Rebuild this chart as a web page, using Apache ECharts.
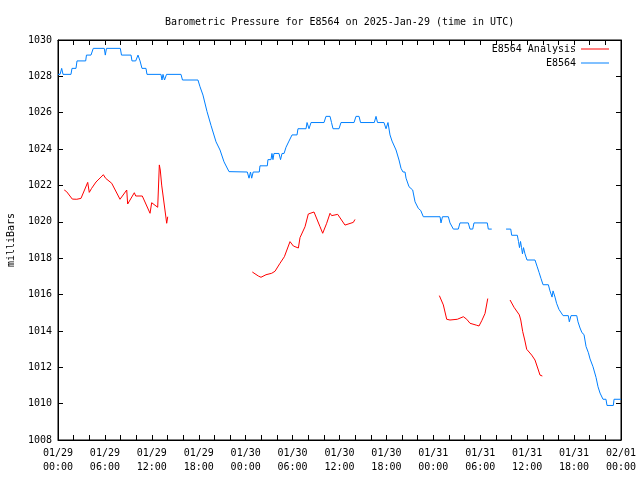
<!DOCTYPE html>
<html>
<head>
<meta charset="utf-8">
<script src="https://cdn.jsdelivr.net/npm/echarts@6/dist/echarts.min.js"></script>
<style>html,body{margin:0;padding:0;background:#fff}#c{width:640px;height:480px}</style>
</head>
<body>
<div id="c"></div>
<script>
// Hours since 2025-01-29 00:00 UTC
var stationTimes = [0,0.26,0.47,0.64,1.66,1.79,2.30,2.43,3.54,3.64,4.22,4.51,5.92,6.05,6.20,7.97,8.12,9.34,9.46,9.94,10.23,10.49,10.74,11.25,11.38,13.17,13.30,13.43,13.62,13.88,15.73,15.92,17.90,18.16,18.54,19.06,19.57,20.21,20.72,21.23,21.87,24.21,24.43,24.62,24.77,24.96,25.74,25.83,26.77,26.85,27.24,27.36,27.49,27.62,28.26,28.46,28.65,28.91,29.16,29.54,29.93,30.57,30.69,31.72,31.85,32.10,32.36,34.02,34.27,34.79,34.98,35.17,35.94,36.19,37.86,38.11,38.50,38.69,40.45,40.67,40.86,41.69,41.95,42.20,42.46,42.72,43.23,43.61,43.87,44.12,44.38,44.51,44.89,45.02,45.36,45.66,46.08,46.39,46.72,48.86,48.98,49.17,49.92,50.13,50.56,51.19,51.41,52.47,52.69,53.04,53.20,54.90,55.03,55.47,56.40,57.30,57.90,58.02,58.74,58.89,59.02,59.15,59.28,59.40,59.53,59.72,59.98,61.00,61.26,61.52,61.77,62.03,62.71,62.92,63.18,63.31,63.56,63.76,64.07,64.59,65.26,65.39,65.61,66.34,66.50,66.76,67.01,67.27,67.53,67.83,68.04,68.42,68.81,69.06,69.32,69.70,70.08,70.21,71.02,71.11,72];
var stationValues = [1028.11,1028.11,1028.44,1028.11,1028.11,1028.44,1028.44,1028.85,1028.85,1029.17,1029.17,1029.54,1029.54,1029.17,1029.54,1029.54,1029.17,1029.17,1028.85,1028.85,1029.17,1028.85,1028.44,1028.44,1028.11,1028.11,1027.8,1028.11,1027.8,1028.11,1028.11,1027.8,1027.8,1027.43,1026.97,1026.06,1025.3,1024.4,1023.95,1023.3,1022.76,1022.74,1022.4,1022.74,1022.4,1022.74,1022.74,1023.08,1023.08,1023.42,1023.42,1023.76,1023.42,1023.76,1023.76,1023.42,1023.76,1023.76,1024.1,1024.44,1024.78,1024.78,1025.12,1025.12,1025.46,1025.12,1025.46,1025.46,1025.8,1025.8,1025.46,1025.12,1025.12,1025.46,1025.46,1025.8,1025.8,1025.46,1025.46,1025.8,1025.46,1025.46,1025.12,1025.46,1024.78,1024.44,1023.95,1023.4,1022.94,1022.74,1022.74,1022.4,1021.93,1021.84,1021.75,1021.1,1020.74,1020.62,1020.28,1020.28,1019.94,1020.28,1020.28,1019.94,1019.6,1019.6,1019.94,1019.94,1019.6,1019.6,1019.94,1019.94,1019.6,1019.6,null,1019.6,1019.6,1019.26,1019.26,1018.92,1018.58,1018.92,1018.58,1018.24,1018.58,1018.24,1017.9,1017.9,1017.56,1017.22,1016.88,1016.54,1016.54,1016.2,1015.86,1016.2,1015.86,1015.52,1015.18,1014.84,1014.84,1014.5,1014.84,1014.84,1014.5,1014.16,1013.9,1013.8,1013.14,1012.8,1012.46,1012.03,1011.44,1010.93,1010.58,1010.24,1010.24,1009.9,1009.9,1010.24,1010.24];

var analysisTimes = [0.80,1.10,1.83,2.40,2.94,3.02,3.80,4.00,4.30,4.86,5.08,5.80,6.10,6.87,7.93,8.79,8.91,9.76,9.94,10.78,11.77,11.98,12.20,12.75,12.96,13.08,13.26,13.90,14.03,
  19.00,
  24.85,25.62,25.96,26.60,27.33,27.75,28.39,28.95,29.03,29.67,30.10,30.74,30.95,31.59,32.01,32.74,33.51,33.85,34.36,34.79,35.00,35.77,36.70,37.77,37.98,
  43.00,
  48.77,48.94,49.28,49.71,50.13,51.07,51.84,52.27,52.69,53.55,53.84,54.19,54.61,54.96,
  56.50,
  57.81,58.32,59.00,59.18,59.43,59.69,59.94,60.58,61.00,61.43,61.64,61.94];
var analysisValues = [1021.75,1021.66,1021.25,1021.24,1021.29,1021.24,1022.17,1021.62,1021.84,1022.19,1022.08,1022.59,1022.39,1022.12,1021.24,1021.75,1020.98,1021.6,1021.42,1021.42,1020.47,1021.05,1021.05,1020.8,1023.13,1022.85,1022.02,1019.92,1020.28,
  null,
  1017.24,1017.02,1016.95,1017.09,1017.17,1017.28,1017.72,1018.08,1017.99,1018.91,1018.67,1018.56,1019.13,1019.73,1020.43,1020.54,1019.73,1019.37,1019.92,1020.47,1020.34,1020.41,1019.82,1019.97,1020.13,
  null,
  1015.94,1016.03,1015.43,1014.64,1014.6,1014.64,1014.78,1014.64,1014.42,1014.31,1014.27,1014.56,1014.96,1015.78,
  null,
  1015.7,1015.3,1014.88,1014.6,1013.96,1013.5,1012.99,1012.67,1012.4,1011.85,1011.57,1011.52];

var titleText = 'Barometric Pressure for E8564 on 2025-Jan-29 (time in UTC)';
var seriesNames = ['E8564 Analysis', 'E8564'];
var yTicks = {min: 1008, max: 1030, step: 2};
var xTicks = {min: 0, max: 72, step: 2, labelStep: 6};
var dayLabels = ['01/29', '01/30', '01/31', '02/01'];

function pairs(t, v) { return t.map(function (x, i) { return [x, v[i]]; }); }
function xLabel(h) {
  if (h % xTicks.labelStep !== 0) return '';
  var d = Math.floor(h / 24), hh = h % 24;
  return dayLabels[d] + '\n' + (hh < 10 ? '0' : '') + hh + ':00';
}

var FONT = 'DejaVu Sans Mono';
var chart = echarts.init(document.getElementById('c'), null, {renderer: 'canvas'});
var tickStyle = {show: true, inside: true, length: 5, lineStyle: {color: '#000', width: 1}};
chart.setOption({
  animation: false,
  backgroundColor: '#fff',
  title: {text: titleText, left: 160, top: 12, textStyle: {fontFamily: FONT, fontSize: 10, fontWeight: 'normal', color: '#000'}},
  legend: {
    data: seriesNames, orient: 'vertical', right: 26, top: 38, align: 'right',
    icon: 'rect', itemWidth: 28, itemHeight: 1, itemGap: 2,
    textStyle: {fontFamily: FONT, fontSize: 10, color: '#000', lineHeight: 12}
  },
  grid: {left: 58, right: 19, top: 40, bottom: 40, show: true, borderColor: '#000', borderWidth: 1, containLabel: false, outerBoundsMode: 'none'},
  xAxis: [
    {type: 'value', position: 'bottom', min: xTicks.min, max: xTicks.max, interval: xTicks.step,
     axisLine: {show: true, onZero: false, lineStyle: {color: '#000'}}, axisTick: tickStyle, splitLine: {show: false},
     axisLabel: {formatter: xLabel, fontFamily: FONT, fontSize: 10, color: '#000', lineHeight: 14, margin: 6, showMinLabel: true, showMaxLabel: true, hideOverlap: false}},
    {type: 'value', position: 'top', min: xTicks.min, max: xTicks.max, interval: xTicks.step,
     axisLine: {show: true, onZero: false, lineStyle: {color: '#000'}}, axisTick: tickStyle, splitLine: {show: false}, axisLabel: {show: false}}
  ],
  yAxis: [
    {type: 'value', position: 'left', min: yTicks.min, max: yTicks.max, interval: yTicks.step,
     name: 'milliBars', nameLocation: 'middle', nameGap: 42, nameRotate: 90,
     nameTextStyle: {fontFamily: FONT, fontSize: 10, color: '#000'},
     axisLine: {show: true, onZero: false, lineStyle: {color: '#000'}}, axisTick: tickStyle, splitLine: {show: false},
     axisLabel: {formatter: function (v) { return String(v); }, fontFamily: FONT, fontSize: 10, color: '#000', margin: 6}},
    {type: 'value', position: 'right', min: yTicks.min, max: yTicks.max, interval: yTicks.step,
     axisLine: {show: true, onZero: false, lineStyle: {color: '#000'}}, axisTick: tickStyle, splitLine: {show: false}, axisLabel: {show: false}}
  ],
  series: [
    {name: seriesNames[0], type: 'line', data: pairs(analysisTimes, analysisValues), showSymbol: false, symbol: 'none',
     connectNulls: false, lineStyle: {color: '#ff0000', width: 1}, itemStyle: {color: '#ff0000'}},
    {name: seriesNames[1], type: 'line', data: pairs(stationTimes, stationValues), showSymbol: false, symbol: 'none',
     connectNulls: false, lineStyle: {color: '#0080ff', width: 1}, itemStyle: {color: '#0080ff'}}
  ]
});
</script>
</body>
</html>
